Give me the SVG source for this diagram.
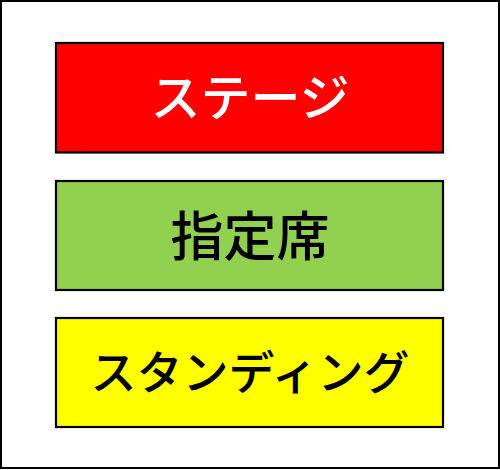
<svg xmlns="http://www.w3.org/2000/svg" width="500" height="470" viewBox="0 0 500 470">
<style>
.box{stroke:#000;stroke-width:2.2}
.lbl{font-family:"Noto Sans CJK JP","Noto Sans",sans-serif;font-weight:500;text-anchor:middle;dominant-baseline:central}
</style>
<rect x="0" y="0" width="500" height="470" fill="#fff"/>
<rect x="1" y="1" width="498" height="467" fill="#fff" stroke="#000" stroke-width="2"/>
<g id="stage">
<rect class="box" x="56" y="43" width="387" height="109.5" fill="#ff0000"/>
<text class="lbl" x="250" y="94" font-size="50" fill="#fff">ステージ</text>
</g>
<g id="reserved">
<rect class="box" x="56" y="181" width="387" height="109" fill="#92d050"/>
<text class="lbl" x="250" y="233" font-size="53" fill="#000">指定席</text>
</g>
<g id="standing">
<rect class="box" x="56" y="318" width="387" height="109" fill="#ffff00"/>
<text class="lbl" x="250" y="369" font-size="46" fill="#000">スタンディング</text>
</g>
<g id="connectors"></g>
</svg>
